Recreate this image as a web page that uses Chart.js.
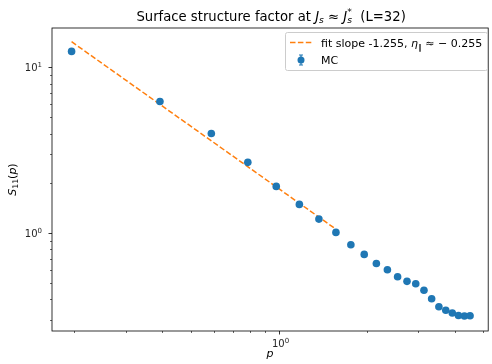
<!DOCTYPE html>
<html><head><meta charset="utf-8">
<script src="https://cdn.jsdelivr.net/npm/chart.js@4/dist/chart.umd.min.js"></script>
<style>html,body{margin:0;padding:0;background:#fff;}canvas{display:block;}</style>
</head><body>
<canvas id="c" width="492" height="364"></canvas>
<script>
// momenta p = 2*pi*n/32
const pValues = [0.196,0.393,0.589,0.785,0.982,1.178,1.374,1.571,1.767,1.963,2.160,2.356,2.553,2.749,2.945,3.142,3.338,3.534,3.731,3.927,4.123,4.320,4.516];
const sValues = [12.5,6.24,4.00,2.68,1.92,1.495,1.219,1.014,0.854,0.747,0.659,0.604,0.548,0.514,0.497,0.454,0.404,0.361,0.344,0.331,0.320,0.318,0.319];
const fitP = [0.196, 1.571];
const fitS = [14.3, 1.06];
const xMajorTicks = [1];
const xMinorTicks = [0.2,0.3,0.4,0.5,0.6,0.7,0.8,0.9,2,3,4,5];
const yMajorTicks = [1, 10];
const yMinorTicks = [0.3,0.4,0.5,0.6,0.7,0.8,0.9,2,3,4,5,6,7,8,9];
const xTickLabels = [["10","0"]];
const yTickLabels = [["10","0"],["10","1"]];

const FONT = "DejaVu Sans";
function drawRuns(ctx, runs, x, y, align) {
  const widths = runs.map(r => {
    if (r.stack) return Math.max(...r.stack.map(s => { ctx.font = (s.italic?"italic ":"")+s.size+"px "+FONT; return ctx.measureText(s.t).width; }));
    ctx.font = (r.italic?"italic ":"")+r.size+"px "+FONT; return ctx.measureText(r.t).width;
  });
  const total = widths.reduce((a,b)=>a+b,0);
  let cx = align==="center" ? x - total/2 : align==="right" ? x - total : x;
  ctx.textAlign = "left"; ctx.textBaseline = "alphabetic";
  runs.forEach((r,i) => {
    const items = r.stack ? r.stack : [r];
    items.forEach(s => { ctx.font = (s.italic?"italic ":"")+s.size+"px "+FONT; ctx.fillText(s.t, cx, y + (s.dy||0)); });
    cx += widths[i];
  });
  return total;
}

const deco = {
  id: "deco",
  afterDraw(chart) {
    const ctx = chart.ctx, a = chart.chartArea, xs = chart.scales.x, ys = chart.scales.y;
    ctx.save();
    ctx.fillStyle = "#000"; ctx.strokeStyle = "#000"; ctx.lineWidth = 0.8;
    ctx.strokeRect(a.left, a.top, a.right - a.left, a.bottom - a.top);
    ctx.beginPath();
    xMajorTicks.forEach(v => { const px = Math.round(xs.getPixelForValue(v))+0.5; ctx.moveTo(px, a.bottom); ctx.lineTo(px, a.bottom+3.5); });
    yMajorTicks.forEach(v => { const py = Math.round(ys.getPixelForValue(v))+0.5; ctx.moveTo(a.left, py); ctx.lineTo(a.left-3.5, py); });
    ctx.stroke();
    ctx.lineWidth = 0.6;
    ctx.beginPath();
    xMinorTicks.forEach(v => { const px = Math.round(xs.getPixelForValue(v))+0.5; ctx.moveTo(px, a.bottom); ctx.lineTo(px, a.bottom+2); });
    yMinorTicks.forEach(v => { const py = Math.round(ys.getPixelForValue(v))+0.5; ctx.moveTo(a.left, py); ctx.lineTo(a.left-2, py); });
    ctx.stroke();
    ctx.fillStyle = "#262626";
    xMajorTicks.forEach((v,i) => {
      const px = xs.getPixelForValue(v);
      drawRuns(ctx, [{t:xTickLabels[i][0], size:10},{t:xTickLabels[i][1], size:7, dy:-4.5}], px+2, a.bottom+16, "center");
    });
    yMajorTicks.forEach((v,i) => {
      const py = ys.getPixelForValue(v);
      drawRuns(ctx, [{t:yTickLabels[i][0], size:10},{t:yTickLabels[i][1], size:7, dy:-4.5}], a.left-10, py+4, "right");
    });
    ctx.fillStyle = "#000";
    drawRuns(ctx, [{t:"p", size:11, italic:true}], (a.left+a.right)/2, 357, "center");
    ctx.save();
    ctx.translate(16, (a.top+a.bottom)/2);
    ctx.rotate(-Math.PI/2);
    drawRuns(ctx, [{t:"S", size:11, italic:true},{t:"11", size:7.7, dy:2.2},{t:"(", size:11},{t:"p", size:11, italic:true},{t:")", size:11}], 0, 0, "center");
    ctx.restore();
    drawRuns(ctx, [
      {t:"Surface structure factor at ", size:13.2},
      {t:"J", size:13.2, italic:true},
      {t:"s", size:9.2, italic:true, dy:2.8},
      {t:" \u2248 ", size:13.2},
      {t:"J", size:13.2, italic:true},
      {stack:[{t:"*", size:9.2, dy:-5.5},{t:"s", size:9.2, italic:true, dy:2.8}]},
      {t:"  (L=32)", size:13.2}
    ], (a.left+a.right)/2 + 1, 20.5, "center");
    const lx = 285.5, ly = 32.5, lw = 202, lh = 38;
    ctx.beginPath();
    ctx.roundRect(lx, ly, lw, lh, 2);
    ctx.fillStyle = "rgba(255,255,255,0.8)"; ctx.fill();
    ctx.strokeStyle = "#cccccc"; ctx.lineWidth = 1; ctx.stroke();
    ctx.strokeStyle = "#ff7f0e"; ctx.lineWidth = 1.5; ctx.setLineDash([5.5,2.4]);
    ctx.beginPath(); ctx.moveTo(290, 42.5); ctx.lineTo(312, 42.5); ctx.stroke();
    ctx.setLineDash([]);
    ctx.fillStyle = "#000";
    drawRuns(ctx, [
      {t:"fit slope -1.255, ", size:11},
      {t:"\u03b7", size:11, italic:true},
      {t:"\u2225", size:7.7, dy:2.8},
      {t:" \u2248 \u2212 0.255", size:11}
    ], 321, 46.8, "left");
    ctx.strokeStyle = "#1f77b4"; ctx.fillStyle = "#1f77b4"; ctx.lineWidth = 1.2;
    ctx.beginPath(); ctx.moveTo(301, 55); ctx.lineTo(301, 65); ctx.moveTo(299, 55); ctx.lineTo(303, 55); ctx.moveTo(299, 65); ctx.lineTo(303, 65); ctx.stroke();
    ctx.beginPath(); ctx.arc(301, 60, 3.5, 0, Math.PI*2); ctx.fill();
    ctx.fillStyle = "#000";
    drawRuns(ctx, [{t:"MC", size:11}], 321, 64, "left");
    ctx.restore();
  }
};

new Chart(document.getElementById("c"), {
  type: "scatter",
  data: {
    datasets: [
      { label: "MC", data: pValues.map((p,i)=>({x:p, y:sValues[i]})), backgroundColor: "#1f77b4", borderWidth: 0, pointRadius: 3.8, pointHoverRadius: 3.8, order: 1 },
      { label: "fit", type: "line", data: fitP.map((p,i)=>({x:p, y:fitS[i]})), borderColor: "#ff7f0e", borderWidth: 1.5, borderDash: [5.5,2.4], pointRadius: 0, fill: false, showLine: true, order: 2 }
    ]
  },
  options: {
    responsive: false, animation: false, devicePixelRatio: 1,
    layout: { padding: { left: 52, top: 28, right: 1, bottom: 33 } },
    scales: {
      x: { type: "logarithmic", min: 0.168, max: 5.21, display: false },
      y: { type: "logarithmic", min: 0.258, max: 17.3, display: false }
    },
    plugins: { legend: { display: false }, tooltip: { enabled: false } }
  },
  plugins: [deco]
});
</script>
</body></html>
